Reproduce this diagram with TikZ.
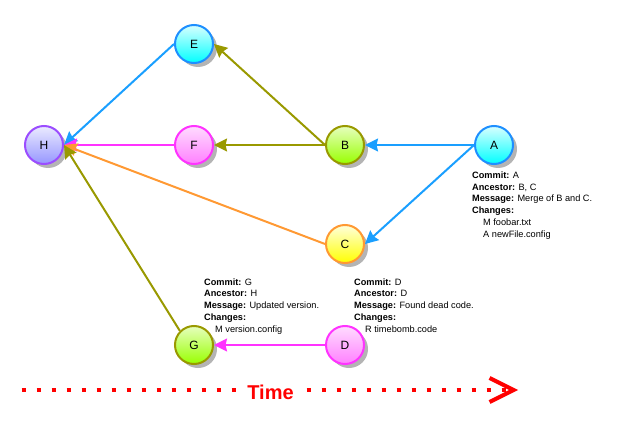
\documentclass[tikz,border=0pt]{standalone}
\usepackage{fontspec}
\setmainfont{Liberation Sans}
\usetikzlibrary{arrows.meta,shadows}
\definecolor{eblue}{HTML}{1A9FFF}
\definecolor{bblue}{HTML}{1E8FFF}
\definecolor{eolive}{HTML}{999900}
\definecolor{emag}{HTML}{FF33FF}
\definecolor{eorange}{HTML}{FF9933}
\definecolor{hpurple}{HTML}{9B4DFF}
\definecolor{shadowgray}{HTML}{B4B4B4}
\begin{document}
\begin{tikzpicture}[x=1pt,y=-1pt,
  commit/.style={circle, minimum size=38pt, inner sep=0pt, line width=2pt,
    font=\fontsize{12}{14}\selectfont,
    general shadow={fill=shadowgray, draw=none, shadow xshift=4pt, shadow yshift=-4pt}},
  cyannode/.style={commit, draw=bblue, top color=cyan!15, bottom color=cyan},
  limenode/.style={commit, draw=eolive, top color={rgb,255:red,230;green,255;blue,190}, bottom color={rgb,255:red,153;green,255;blue,0}},
  pinknode/.style={commit, draw=emag, top color={rgb,255:red,255;green,220;blue,255}, bottom color={rgb,255:red,255;green,128;blue,255}},
  yellownode/.style={commit, draw=eorange, top color={rgb,255:red,255;green,255;blue,220}, bottom color=yellow},
  lavnode/.style={commit, draw=hpurple, top color={rgb,255:red,235;green,235;blue,255}, bottom color={rgb,255:red,150;green,150;blue,255}},
  edge/.style={line width=2pt, -{Stealth[length=13pt,width=13pt,inset=1.5pt]}},
  info/.style={anchor=north west, inner sep=0pt, align=left, font=\fontsize{9.2}{11.8}\selectfont},
]
\useasboundingbox (0,0) rectangle (642,422);

% nodes
\node[cyannode]   (E) at (194,44)  {E};
\node[lavnode]    (H) at (44,145)  {H};
\node[pinknode]   (F) at (194,145) {F};
\node[limenode]   (B) at (345,145) {B};
\node[cyannode]   (A) at (494,145) {A};
\node[yellownode] (C) at (345,244) {C};
\node[limenode]   (G) at (194,345) {G};
\node[pinknode]   (D) at (345,345) {D};

% edges
\draw[edge, eblue]   (A.west) -- (B.east);
\draw[edge, eblue]   (A.west) -- (C.east);
\draw[edge, eolive]  (B.west) -- (E.east);
\draw[edge, eolive]  (B.west) -- (F.east);
\draw[edge, eblue]   (E.west) -- (H.east);
\draw[edge, emag]    (F.west) -- (H.east);
\draw[edge, eorange] (C.west) -- (H.east);
\draw[edge, eolive]  (G.north west) -- (H.east);
\draw[edge, emag]    (D.west) -- (G.east);

% info texts
\node[info] (infoA) at (472,171.5) {\textbf{Commit:} A\\\textbf{Ancestor:} B, C\\\textbf{Message:} Merge of B and C.\\\textbf{Changes:}\\\hspace{11pt}M foobar.txt\\\hspace{11pt}A newFile.config};
\node[info] (infoG) at (204,278.3) {\textbf{Commit:} G\\\textbf{Ancestor:} H\\\textbf{Message:} Updated version.\\\textbf{Changes:}\\\hspace{11pt}M version.config};
\node[info] (infoD) at (354,278.3) {\textbf{Commit:} D\\\textbf{Ancestor:} D\\\textbf{Message:} Found dead code.\\\textbf{Changes:}\\\hspace{11pt}R timebomb.code};

% time axis
\coordinate (t0) at (21.7,390);
\coordinate (t1) at (518,390);
\draw[red, line width=4pt, dash pattern=on 4pt off 11pt, -{Straight Barb[length=24pt,width=24pt]}] (t0) -- (t1);
\node[fill=white, inner xsep=2pt, inner ysep=1pt, text=red, font=\fontsize{20}{22}\selectfont\bfseries] (time) at (270.5,392) {Time};
\end{tikzpicture}
\end{document}
